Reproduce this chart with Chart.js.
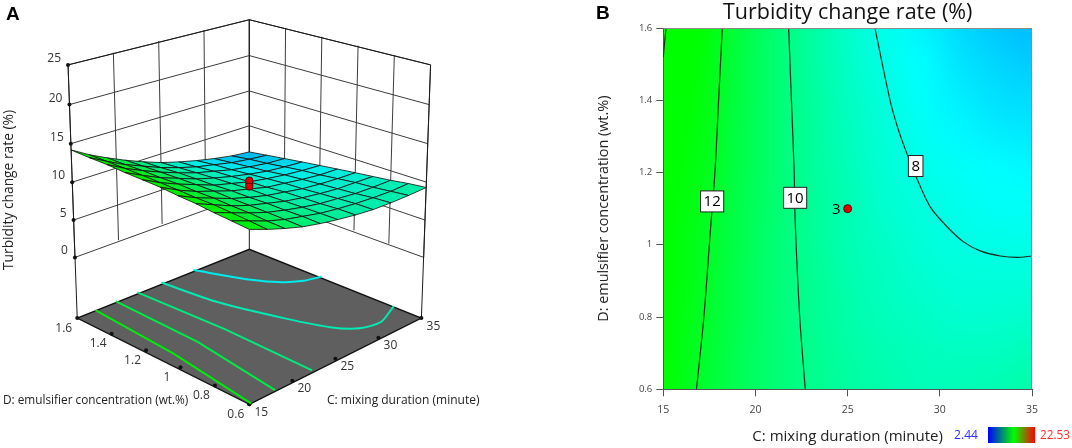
<!DOCTYPE html>
<html>
<head>
<meta charset="utf-8">
<script src="https://cdn.jsdelivr.net/npm/chart.js@4.4.1/dist/chart.umd.min.js"></script>
<style>
  html, body { margin: 0; padding: 0; background: #fff; }
  #wrap { position: relative; width: 1072px; height: 448px; overflow: hidden; }
  #boxA { position: absolute; left: 0; top: 0; width: 540px; height: 448px; }
  #boxB { position: absolute; left: 540px; top: 0; width: 532px; height: 448px; }
</style>
</head>
<body>
<div id="wrap">
  <div id="boxA"><canvas id="chartA"></canvas></div>
  <div id="boxB"><canvas id="chartB"></canvas></div>
</div>
<script>
// Response grid: rows follow dValues, columns follow cValues
const cValues = [15, 17, 19, 21, 23, 25, 27, 29, 31, 33, 35];
const dValues = [0.6, 0.7, 0.8, 0.9, 1.0, 1.1, 1.2, 1.3, 1.4, 1.5, 1.6];
const turbidity = [
  [12.8, 11.9, 11.1, 10.4, 9.9, 9.5, 9.2, 9.0, 9.0, 9.1, 9.3],
  [12.9, 12.0, 11.1, 10.4, 9.9, 9.4, 9.1, 8.9, 8.8, 8.8, 9.0],
  [13.0, 12.1, 11.2, 10.4, 9.8, 9.3, 8.9, 8.7, 8.5, 8.5, 8.6],
  [13.2, 12.2, 11.2, 10.4, 9.8, 9.2, 8.8, 8.5, 8.3, 8.3, 8.3],
  [13.3, 12.2, 11.3, 10.4, 9.7, 9.1, 8.7, 8.3, 8.1, 8.0, 8.0],
  [13.5, 12.3, 11.3, 10.5, 9.7, 9.1, 8.5, 8.2, 7.9, 7.7, 7.7],
  [13.6, 12.4, 11.4, 10.5, 9.6, 9.0, 8.4, 8.0, 7.7, 7.5, 7.4],
  [13.7, 12.5, 11.4, 10.5, 9.6, 8.9, 8.3, 7.8, 7.4, 7.2, 7.1],
  [13.9, 12.6, 11.5, 10.5, 9.6, 8.8, 8.2, 7.6, 7.2, 6.9, 6.8],
  [14.0, 12.7, 11.5, 10.5, 9.5, 8.7, 8.0, 7.5, 7.0, 6.7, 6.5],
  [14.2, 12.8, 11.6, 10.5, 9.5, 8.6, 7.9, 7.3, 6.8, 6.4, 6.2]
];

// Tick values and labels
const zTicks = [0, 5, 10, 15, 20, 25];
const zTickLabels = ['0', '5', '10', '15', '20', '25'];
const cTicks = [15, 20, 25, 30, 35];
const cTickLabels = ['15', '20', '25', '30', '35'];
const dTicks = [0.6, 0.8, 1, 1.2, 1.4, 1.6];
const dTickLabels = ['0.6', '0.8', '1', '1.2', '1.4', '1.6'];

// Contour lines of panel B, [C, D] pairs
const line14 = [[15.15, 1.6], [15.05, 1.55], [15.0, 1.52]];
const line12 = [[18.2, 1.6], [18.0, 1.4], [17.8, 1.2], [17.6, 1.07], [17.2, 0.8], [16.8, 0.6]];
const line10 = [[21.8, 1.6], [21.95, 1.4], [22.1, 1.2], [22.15, 1.07], [22.4, 0.8], [22.7, 0.6]];
const line8 = [[26.48, 1.6], [27.3, 1.4], [27.76, 1.317], [28.21, 1.253], [28.76, 1.183], [29.48, 1.105],
  [30.39, 1.05], [31.29, 1.008], [32.19, 0.983], [33.28, 0.969], [34.19, 0.965], [35, 0.969]];
const contourLabels = [['12', 17.65, 1.12], ['10', 22.15, 1.13], ['8', 28.69, 1.218]];

// Contour lines projected on the floor of panel A, [C, D] pairs
const floorLevels = [12.5, 11.25, 10, 8.75, 7.5];
const floorLines = [
  [[17.1, 1.6], [16.2, 1.1], [15.2, 0.6]],
  [[19.5, 1.6], [19.0, 1.1], [18.0, 0.6]],
  [[22.0, 1.6], [22.15, 1.1], [22.3, 0.6]],
  [[24.8, 1.6], [25.3, 1.3], [27.0, 1.0], [28.6, 0.8], [30.25, 0.71], [32.2, 0.693], [34.6, 0.75], [35, 0.76]],
  [[28.5, 1.6], [30.4, 1.36], [31.9, 1.25], [33.3, 1.2], [34.44, 1.185], [35, 1.18]]
];

// Centre design point (3 replicates)
const designC = [25];
const designD = [1.1];
const designValue = [10.4];
const designReps = ['3'];

// Colour bar range
const rangeLow = 2.44;
const rangeHigh = 22.53;

Chart.defaults.font.family = '"Open Sans", sans-serif';

// colour scale used for the surface and the contour map
const colorStops = [[2.44, [0, 0, 255]], [7.5, [0, 255, 255]], [12.8, [0, 255, 0]], [16.5, [0, 255, 0]], [19.5, [255, 255, 0]], [22.53, [255, 0, 0]]];
function colorFor(v) {
  if (v <= colorStops[0][0]) return colorStops[0][1];
  for (let k = 1; k < colorStops.length; k++) {
    if (v <= colorStops[k][0]) {
      const [v0, c0] = colorStops[k - 1];
      const [v1, c1] = colorStops[k];
      const t = (v - v0) / (v1 - v0);
      return c0.map((x, i) => Math.round(x + (c1[i] - x) * t));
    }
  }
  return colorStops[colorStops.length - 1][1];
}
function rgb(c, f) {
  f = f || 1;
  return 'rgb(' + Math.round(c[0] * f) + ',' + Math.round(c[1] * f) + ',' + Math.round(c[2] * f) + ')';
}

// font size that makes a text a given width
function fitFont(text, width, weight) {
  const m = document.createElement('canvas').getContext('2d');
  m.font = (weight ? weight + ' ' : '') + '100px "Open Sans"';
  return +(100 * width / m.measureText(text).width).toFixed(1);
}

// ---------- Panel A: 3D view ----------
const cMin = cValues[0], cMax = cValues[cValues.length - 1];
const dMin = dValues[0], dMax = dValues[dValues.length - 1];
const zMax = zTicks[zTicks.length - 1];
const floorZ = -8.3;
const view = { cx: 249, sx: 177, sxz: 0.28, y0: 258, yb: -42.42, yz: -7.934, pb: 0.1141, pz: -0.00152 };

// map (C, D, z) into the scale units of chart A
function project(c, d, z) {
  const u = (c - cMin) / (cMax - cMin);
  const v = (d - dMin) / (dMax - dMin);
  const a = u - v, b = u + v - 1;
  const den = 1 + view.pb * b + view.pz * z;
  return { x: view.cx + a * (view.sx + view.sxz * z), y: (view.y0 + view.yb * b + view.yz * z) / den };
}
function toPx(chart, p) {
  return { x: chart.scales.x.getPixelForValue(p.x), y: chart.scales.y.getPixelForValue(p.y) };
}
function seg(ctx, p, q) {
  ctx.beginPath(); ctx.moveTo(p.x, p.y); ctx.lineTo(q.x, q.y); ctx.stroke();
}

const sceneA = {
  id: 'sceneA',
  beforeDatasetsDraw(chart) {
    const ctx = chart.ctx;
    const P = (c, d, z) => toPx(chart, project(c, d, z));
    ctx.save();
    ctx.lineWidth = 1;
    ctx.strokeStyle = '#3c3c3c';
    // back wall at D = 1.6
    cTicks.forEach(c => seg(ctx, P(c, dMax, 0), P(c, dMax, zMax)));
    zTicks.forEach(z => seg(ctx, P(cMin, dMax, z), P(cMax, dMax, z)));
    // back wall at C = 35
    dTicks.forEach(d => seg(ctx, P(cMax, d, 0), P(cMax, d, zMax)));
    zTicks.forEach(z => seg(ctx, P(cMax, dMax, z), P(cMax, dMin, z)));
    // top edges and corner posts
    ctx.strokeStyle = '#1a1a1a';
    seg(ctx, P(cMin, dMax, zMax), P(cMax, dMax, zMax));
    seg(ctx, P(cMax, dMax, zMax), P(cMax, dMin, zMax));
    [[cMin, dMax], [cMax, dMax], [cMax, dMin]].forEach(([c, d]) => seg(ctx, P(c, d, zMax), P(c, d, floorZ)));
    // floor
    const f = [P(cMin, dMin, floorZ), P(cMax, dMin, floorZ), P(cMax, dMax, floorZ), P(cMin, dMax, floorZ)];
    ctx.beginPath();
    f.forEach((p, i) => i ? ctx.lineTo(p.x, p.y) : ctx.moveTo(p.x, p.y));
    ctx.closePath();
    ctx.fillStyle = '#5f5f5f';
    ctx.fill();
    ctx.lineWidth = 1.3;
    ctx.strokeStyle = '#111';
    ctx.stroke();
    ctx.restore();
  },
  afterDatasetsDraw(chart) {
    const ctx = chart.ctx;
    const P = (c, d, z) => toPx(chart, project(c, d, z));
    ctx.save();
    // response surface, far cells first
    const quads = [];
    for (let i = 0; i < dValues.length - 1; i++) {
      for (let j = 0; j < cValues.length - 1; j++) {
        const corners = [[j, i], [j + 1, i], [j + 1, i + 1], [j, i + 1]];
        const pts = corners.map(([jj, ii]) => P(cValues[jj], dValues[ii], turbidity[ii][jj]));
        const avg = corners.reduce((s, [jj, ii]) => s + turbidity[ii][jj], 0) / 4;
        const depth = (cValues[j] + cValues[j + 1]) / 2 / (cMax - cMin) + (dValues[i] + dValues[i + 1]) / 2 / (dMax - dMin);
        quads.push({ pts, avg, depth });
      }
    }
    quads.sort((p, q) => q.depth - p.depth);
    ctx.lineWidth = 0.9;
    ctx.strokeStyle = 'rgba(15,15,15,0.9)';
    quads.forEach(q => {
      ctx.beginPath();
      q.pts.forEach((p, k) => k ? ctx.lineTo(p.x, p.y) : ctx.moveTo(p.x, p.y));
      ctx.closePath();
      ctx.fillStyle = rgb(colorFor(q.avg), 0.93);
      ctx.fill();
      ctx.stroke();
    });
    // design point stick from the surface to the measured value
    designC.forEach((c, k) => {
      const d = designD[k];
      const surf = turbidity[dValues.indexOf(d)][cValues.indexOf(c)];
      const top = P(c, d, designValue[k]);
      const bot = P(c, d, surf);
      const w = 7, h = bot.y - top.y + 3;
      ctx.beginPath();
      ctx.roundRect(top.x - w / 2, top.y - 2, w, h, 3);
      ctx.fillStyle = '#e10000';
      ctx.fill();
      ctx.lineWidth = 1;
      ctx.strokeStyle = '#5a0000';
      ctx.stroke();
      seg(ctx, { x: top.x - w / 2, y: top.y + h / 3 }, { x: top.x + w / 2, y: top.y + h / 3 });
    });
    // texts
    ctx.fillStyle = '#333';
    ctx.font = '12px "Open Sans"';
    ctx.textAlign = 'right';
    ctx.textBaseline = 'middle';
    zTicks.forEach((z, k) => {
      const p = P(cMin, dMax, z);
      ctx.fillText(zTickLabels[k], p.x - 7, p.y - 6.5);
    });
    ctx.textAlign = 'center';
    dTicks.forEach((d, k) => {
      const p = P(cMin, d, floorZ);
      ctx.fillText(dTickLabels[k], p.x - 13.5, p.y + 10);
    });
    cTicks.forEach((c, k) => {
      const p = P(c, dMin, floorZ);
      ctx.fillText(cTickLabels[k], p.x + 12, p.y + 8);
    });
    ctx.fillStyle = '#222';
    const tZ = 'Turbidity change rate (%)';
    ctx.save();
    ctx.translate(9, 190);
    ctx.rotate(-Math.PI / 2);
    ctx.font = fitFont(tZ, 160) + 'px "Open Sans"';
    ctx.fillText(tZ, 0, 0);
    ctx.restore();
    ctx.textAlign = 'left';
    const tD = 'D: emulsifier concentration (wt.%)';
    ctx.font = fitFont(tD, 185) + 'px "Open Sans"';
    ctx.fillText(tD, 3, 401);
    const tC = 'C: mixing duration (minute)';
    ctx.font = fitFont(tC, 152) + 'px "Open Sans"';
    ctx.fillText(tC, 327, 401);
    ctx.fillStyle = '#000';
    ctx.font = 'bold 19px "Liberation Sans", Arial, sans-serif';
    ctx.fillText('A', 6, 15);
    ctx.restore();
  }
};

const floorDatasets = floorLines.map((line, k) => ({
  label: 'level ' + floorLevels[k],
  data: line.map(([c, d]) => project(c, d, floorZ)),
  showLine: true,
  borderColor: rgb(colorFor(floorLevels[k]), 0.92),
  borderWidth: 2,
  pointRadius: 0,
  tension: line.length > 3 ? 0.25 : 0
}));
const tickDots = [].concat(
  zTicks.map(z => project(cMin, dMax, z)),
  dTicks.map(d => project(cMin, d, floorZ)),
  cTicks.map(c => project(c, dMin, floorZ))
);

new Chart(document.getElementById('chartA'), {
  type: 'scatter',
  data: {
    datasets: floorDatasets.concat([{
      label: 'ticks',
      data: tickDots,
      pointRadius: 2,
      pointBackgroundColor: '#111',
      pointBorderWidth: 0
    }])
  },
  options: {
    responsive: true,
    maintainAspectRatio: false,
    animation: false,
    layout: { padding: 0 },
    scales: {
      x: { type: 'linear', min: 0, max: 540, display: false },
      y: { type: 'linear', min: 0, max: 448, reverse: true, display: false }
    },
    plugins: { legend: { display: false }, tooltip: { enabled: false } }
  },
  plugins: [sceneA]
});

// ---------- Panel B: contour map ----------
const fieldB = {
  id: 'fieldB',
  beforeDraw(chart) {
    const { ctx, chartArea: a, scales: { x, y } } = chart;
    const nC = cValues.length, nD = dValues.length;
    const off = document.createElement('canvas');
    off.width = nC; off.height = nD;
    const o = off.getContext('2d');
    const img = o.createImageData(nC, nD);
    for (let r = 0; r < nD; r++) {
      for (let k = 0; k < nC; k++) {
        const col = colorFor(turbidity[nD - 1 - r][k]);
        const idx = (r * nC + k) * 4;
        img.data[idx] = col[0]; img.data[idx + 1] = col[1]; img.data[idx + 2] = col[2]; img.data[idx + 3] = 255;
      }
    }
    o.putImageData(img, 0, 0);
    const x0 = x.getPixelForValue(cMin), x1 = x.getPixelForValue(cMax);
    const y0 = y.getPixelForValue(dMax), y1 = y.getPixelForValue(dMin);
    const cw = (x1 - x0) / (nC - 1), ch = (y1 - y0) / (nD - 1);
    ctx.save();
    ctx.beginPath();
    ctx.rect(a.left, a.top, a.width, a.height);
    ctx.clip();
    ctx.imageSmoothingEnabled = true;
    ctx.imageSmoothingQuality = 'high';
    ctx.drawImage(off, x0 - cw / 2, y0 - ch / 2, cw * nC, ch * nD);
    ctx.restore();
  },
  afterDraw(chart) {
    const { ctx, chartArea: a, scales: { x, y } } = chart;
    ctx.save();
    // frame on top and right
    ctx.strokeStyle = '#8a8a8a';
    ctx.lineWidth = 1;
    ctx.beginPath();
    ctx.moveTo(a.left, a.top + 0.5); ctx.lineTo(a.right - 0.5, a.top + 0.5); ctx.lineTo(a.right - 0.5, a.bottom);
    ctx.stroke();
    // contour labels
    ctx.font = '15px "Open Sans"';
    ctx.textAlign = 'center';
    ctx.textBaseline = 'middle';
    contourLabels.forEach(([t, c, d]) => {
      const px = x.getPixelForValue(c), py = y.getPixelForValue(d);
      const w = ctx.measureText(t).width + 6, h = 21;
      ctx.fillStyle = '#fff';
      ctx.fillRect(px - w / 2, py - h / 2, w, h);
      ctx.strokeStyle = '#222';
      ctx.strokeRect(px - w / 2, py - h / 2, w, h);
      ctx.fillStyle = '#000';
      ctx.fillText(t, px, py + 0.5);
    });
    // replicate count next to the design point
    ctx.textAlign = 'right';
    designC.forEach((c, k) => {
      ctx.fillText(designReps[k], x.getPixelForValue(c) - 7, y.getPixelForValue(designD[k]) + 1);
    });
    // title
    ctx.textAlign = 'center';
    ctx.fillStyle = '#111';
    const title = 'Turbidity change rate (%)';
    ctx.font = fitFont(title, 249) + 'px "Open Sans"';
    ctx.fillText(title, (a.left + a.right) / 2, 13);
    // panel letter
    ctx.textAlign = 'left';
    ctx.fillStyle = '#000';
    ctx.font = 'bold 19px "Liberation Sans", Arial, sans-serif';
    ctx.fillText('B', 56, 14);
    // colour bar
    const bx = 448, by = 427, bw = 47, bh = 16;
    const g = ctx.createLinearGradient(bx, 0, bx + bw, 0);
    g.addColorStop(0, '#0000ff');
    g.addColorStop(0.55, '#00ff00');
    g.addColorStop(1, '#ff0000');
    ctx.fillStyle = g;
    ctx.fillRect(bx, by, bw, bh);
    const lo = rangeLow.toFixed(2), hi = rangeHigh.toFixed(2);
    ctx.textAlign = 'right';
    ctx.fillStyle = '#2d2dff';
    ctx.font = fitFont(lo, 24) + 'px "Open Sans"';
    ctx.fillText(lo, bx - 10, by + bh / 2 + 1);
    ctx.textAlign = 'left';
    ctx.fillStyle = '#ff2d2d';
    ctx.font = fitFont(hi, 30) + 'px "Open Sans"';
    ctx.fillText(hi, bx + bw + 5, by + bh / 2 + 1);
    ctx.restore();
  }
};

function contourSet(line, name) {
  return {
    label: name,
    data: line.map(([c, d]) => ({ x: c, y: d })),
    showLine: true,
    borderColor: '#1c2a1c',
    borderWidth: 1.2,
    pointRadius: 0,
    tension: 0.3
  };
}

const xTitle = 'C: mixing duration (minute)';
const yTitle = 'D: emulsifier concentration (wt.%)';

new Chart(document.getElementById('chartB'), {
  type: 'scatter',
  data: {
    datasets: [
      contourSet(line14, '14'),
      contourSet(line12, '12'),
      contourSet(line10, '10'),
      contourSet(line8, '8'),
      {
        label: 'design point',
        data: designC.map((c, k) => ({ x: c, y: designD[k] })),
        pointRadius: 4,
        pointBackgroundColor: '#e60000',
        pointBorderColor: '#5a0000',
        pointBorderWidth: 1
      }
    ]
  },
  options: {
    responsive: true,
    maintainAspectRatio: false,
    animation: false,
    layout: { padding: { left: 51, right: 40, top: 28, bottom: 0 } },
    scales: {
      x: {
        type: 'linear', min: cMin, max: cMax,
        afterBuildTicks: s => { s.ticks = cTicks.map(v => ({ value: v })); },
        afterFit: s => { s.height = 58.7; },
        ticks: {
          callback: v => cTickLabels[cTicks.indexOf(v)] || '',
          font: { size: 10.5 }, color: '#444', padding: 7, maxRotation: 0
        },
        grid: { drawOnChartArea: false, drawTicks: true, tickLength: 7, color: '#555' },
        border: { display: true, color: '#555' },
        title: { display: true, text: xTitle, color: '#222', font: { size: fitFont(xTitle, 190) }, padding: { top: 4, bottom: 2 } }
      },
      y: {
        type: 'linear', min: dMin, max: dMax,
        afterBuildTicks: s => { s.ticks = dTicks.map(v => ({ value: v })); },
        afterFit: s => { s.width = 72.3; },
        ticks: {
          callback: v => { const k = dTicks.findIndex(t => Math.abs(t - v) < 1e-6); return k >= 0 ? dTickLabels[k] : ''; },
          font: { size: 9.5 }, color: '#444', padding: 4
        },
        grid: { drawOnChartArea: false, drawTicks: true, tickLength: 7, color: '#555' },
        border: { display: true, color: '#555' },
        title: { display: true, text: yTitle, color: '#222', font: { size: fitFont(yTitle, 227) }, padding: { top: 4, bottom: 4 } }
      }
    },
    plugins: { legend: { display: false }, tooltip: { enabled: false } }
  },
  plugins: [fieldB]
});
</script>
</body>
</html>
